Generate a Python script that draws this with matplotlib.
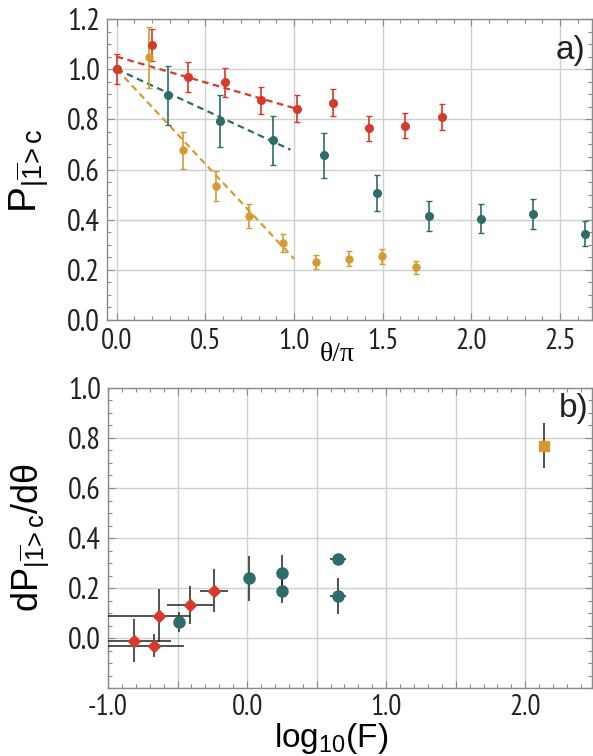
import matplotlib
matplotlib.use("Agg")
import matplotlib.pyplot as plt
from matplotlib.ticker import MultipleLocator, FixedLocator, FuncFormatter

# colours
RED = '#d63a2a'
TEAL = '#2e6b6b'
GOLD = '#d69a30'

# ---- panel a) data : P vs theta/pi
red_x = [0.0, 0.20, 0.404, 0.611, 0.814, 1.015, 1.222, 1.423, 1.626, 1.833]
red_y = [1.0, 1.096, 0.969, 0.948, 0.876, 0.843, 0.867, 0.764, 0.775, 0.808]
red_err = [0.06, 0.065, 0.06, 0.058, 0.055, 0.055, 0.055, 0.05, 0.05, 0.052]

teal_x = [0.0, 0.291, 0.583, 0.879, 1.17, 1.466, 1.761, 2.054, 2.35, 2.641]
teal_y = [1.0, 0.896, 0.794, 0.716, 0.657, 0.506, 0.416, 0.404, 0.421, 0.344]
teal_err = [0.0, 0.117, 0.105, 0.096, 0.09, 0.073, 0.06, 0.059, 0.06, 0.05]

gold_x = [0.0, 0.184, 0.372, 0.56, 0.748, 0.936, 1.124, 1.31, 1.498, 1.686]
gold_y = [1.0, 1.047, 0.677, 0.533, 0.414, 0.308, 0.233, 0.244, 0.254, 0.21]
gold_err = [0.0, 0.12, 0.073, 0.06, 0.048, 0.036, 0.028, 0.03, 0.03, 0.027]

# linear fits (end points)
red_fit_x = [0.0, 1.0]
red_fit_y = [1.05, 0.845]
teal_fit_x = [0.0, 0.98]
teal_fit_y = [1.0, 0.679]
gold_fit_x = [0.0, 1.0]
gold_fit_y = [1.0, 0.244]

# ---- panel b) data : slope vs log10(F)
dia_x = [-0.81, -0.67, -0.63, -0.41, -0.24]
dia_y = [-0.01, -0.03, 0.09, 0.132, 0.19]
dia_yerr = [0.085, 0.045, 0.105, 0.075, 0.085]
dia_xerr_lo = [0.30, 0.40, 0.40, 0.165, 0.10]
dia_xerr_hi = [0.26, 0.22, 0.22, 0.165, 0.10]

circ_x = [-0.486, 0.014, 0.25, 0.25, 0.655, 0.655]
circ_y = [0.063, 0.239, 0.261, 0.19, 0.317, 0.169]
circ_yerr = [0.04, 0.09, 0.07, 0.05, 0.0, 0.072]
circ_xerr = [0.0, 0.0, 0.0, 0.0, 0.057, 0.057]

sq_x = [2.134]
sq_y = [0.768]
sq_yerr = [0.09]

TICKFONT = ['PT Sans Narrow', 'Roboto Condensed', 'Liberation Sans', 'DejaVu Sans']
plt.rcParams['font.family'] = ['Liberation Sans', 'DejaVu Sans']
plt.rcParams['mathtext.fontset'] = 'custom'
plt.rcParams['mathtext.rm'] = 'Liberation Sans'
plt.rcParams['mathtext.it'] = 'Liberation Sans:italic'


def style_axes(ax):
    ax.grid(True, which='major', color='#cfcfcf', lw=1.0)
    ax.set_axisbelow(True)
    for s in ax.spines.values():
        s.set_color('#8a8a8a')
        s.set_linewidth(1.0)
    ax.tick_params(which='both', direction='in', top=True, right=True,
                   color='#8a8a8a', labelcolor='#222222')
    ax.tick_params(which='major', length=5, width=0.8, labelsize=22)
    ax.tick_params(which='minor', length=3, width=0.8)
    for lab in ax.get_xticklabels() + ax.get_yticklabels():
        lab.set_family(TICKFONT)


fig = plt.figure(figsize=(5.93, 7.56), dpi=100)

# ---------------- a)
ax = fig.add_axes([0.1804, 0.5767, 0.8179, 0.3981])
ax.plot(teal_fit_x, teal_fit_y, '--', color=TEAL, lw=1.6, dashes=(3, 2))
ax.plot(red_fit_x, red_fit_y, '--', color=RED, lw=1.6, dashes=(3, 2))
ax.plot(gold_fit_x, gold_fit_y, '--', color=GOLD, lw=1.6, dashes=(3, 2))
ax.errorbar(teal_x, teal_y, yerr=teal_err, fmt='o', color=TEAL, ms=5.5,
            ecolor=TEAL, elinewidth=1.2, capsize=2)
ax.errorbar(gold_x, gold_y, yerr=gold_err, fmt='o', color=GOLD, ms=5,
            ecolor=GOLD, elinewidth=1.2, capsize=2)
ax.errorbar(red_x, red_y, yerr=red_err, fmt='o', color=RED, ms=5.5,
            ecolor=RED, elinewidth=1.2, capsize=2)
ax.set_xlim(-0.055, 2.68)
ax.set_ylim(0, 1.2)
ax.xaxis.set_major_locator(MultipleLocator(0.5))
ax.xaxis.set_minor_locator(MultipleLocator(0.1))
ax.yaxis.set_major_locator(MultipleLocator(0.2))
ax.yaxis.set_minor_locator(MultipleLocator(0.05))
ax.xaxis.set_major_formatter(FuncFormatter(lambda v, p: f'{v:.1f}'))
ax.yaxis.set_major_formatter(FuncFormatter(lambda v, p: f'{v:.1f}'))
style_axes(ax)
ax.tick_params(axis='x', which='major', pad=6, labelsize=21)
ax.tick_params(axis='y', which='major', pad=5)
ax.set_xlabel('θ/π', family=['Liberation Serif', 'DejaVu Serif'], fontsize=20)
ax.xaxis.set_label_coords(0.474, -0.113)
ax.xaxis.label.set_va('center')
ax.set_ylabel(r'P$_{|\overline{\mathrm{1}}\!\mathrm{>c}}$', fontsize=28)
ax.yaxis.set_label_coords(-0.161, 0.495)
ax.yaxis.label.set_va('center')
ax.text(0.986, 0.897, 'a)', transform=ax.transAxes, fontsize=24,
        ha='right', va='center', color='#222222')

# ---------------- b)
bx = fig.add_axes([0.1821, 0.0899, 0.8162, 0.3969])
bx.errorbar(dia_x, dia_y, yerr=dia_yerr, xerr=[dia_xerr_lo, dia_xerr_hi],
            fmt='D', color=RED, ms=6, ecolor='#222222', elinewidth=1.1,
            capsize=0, zorder=3)
bx.errorbar(circ_x, circ_y, yerr=circ_yerr, xerr=circ_xerr, fmt='o',
            color=TEAL, ms=8, ecolor='#222222', elinewidth=1.1, capsize=0,
            zorder=3)
bx.errorbar(sq_x, sq_y, yerr=sq_yerr, fmt='s', color=GOLD, ms=7,
            ecolor='#222222', elinewidth=1.1, capsize=0, zorder=3)
bx.set_xlim(-1.0, 2.48)
bx.set_ylim(-0.2, 1.0)
bx.xaxis.set_major_locator(MultipleLocator(0.5))
bx.xaxis.set_minor_locator(MultipleLocator(0.1))
bx.xaxis.set_major_formatter(
    FuncFormatter(lambda v, p: f'{v:.1f}' if abs(v - round(v)) < 1e-6 else ''))
bx.yaxis.set_major_locator(FixedLocator([0.0, 0.2, 0.4, 0.6, 0.8, 1.0]))
bx.yaxis.set_minor_locator(MultipleLocator(0.05))
bx.yaxis.set_major_formatter(FuncFormatter(lambda v, p: f'{v:.1f}'))
style_axes(bx)
bx.tick_params(axis='x', which='major', pad=4, labelsize=21)
bx.tick_params(axis='y', which='major', pad=5)
bx.axhline(-0.2, color='#cfcfcf', lw=1.0, zorder=0)
bx.set_xlabel(r'log$_{10}$(F)', fontsize=24)
bx.xaxis.set_label_coords(0.461, -0.167)
bx.xaxis.label.set_va('center')
bx.set_ylabel(r'dP$_{|\overline{\mathrm{1}}\!\mathrm{>c}}$/dθ', fontsize=26)
bx.yaxis.set_label_coords(-0.161, 0.503)
bx.yaxis.label.set_va('center')
bx.text(0.992, 0.933, 'b)', transform=bx.transAxes, fontsize=24,
        ha='right', va='center', color='#222222')

fig.savefig('out.png', dpi=100)
